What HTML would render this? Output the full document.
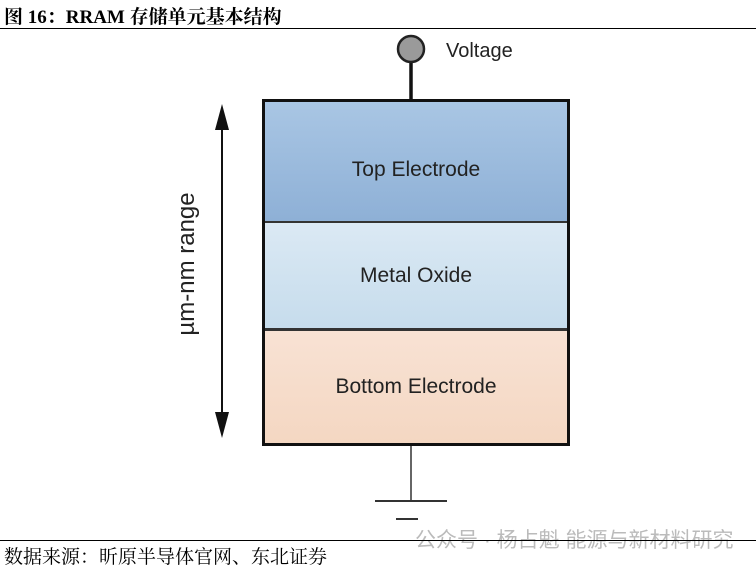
<!DOCTYPE html>
<html><head><meta charset="utf-8"><style>
body{margin:0;width:756px;height:568px;background:#fff;position:relative;overflow:hidden;font-family:"Liberation Sans","Noto Sans CJK SC",sans-serif}
.t{position:absolute;left:4px;top:2px;font:bold 19px "Liberation Serif","Noto Serif CJK SC",serif;color:#000}
.hr{position:absolute;left:0;width:756px;height:1px;background:#000}
.box{position:absolute;left:262px;top:99px;width:302px;height:341px;border:3.5px solid #111}
.l{position:absolute;left:0;width:302px;display:flex;align-items:center;justify-content:center;font-size:21px;color:#222}
.src{position:absolute;left:4px;top:542px;font:19px "Liberation Serif","Noto Serif CJK SC",serif;color:#000}
.wm{position:absolute;left:415px;top:524px;font-size:21px;color:#bbb}
</style></head><body>
<div class="t">图 16：RRAM 存储单元基本结构</div>
<div class="hr" style="top:28px"></div>
<svg width="756" height="568" style="position:absolute;left:0;top:0">
<line x1="411" y1="62" x2="411" y2="100" stroke="#111" stroke-width="3.5"/>
<circle cx="411" cy="49" r="13" fill="#9a9a9a" stroke="#222" stroke-width="2.5"/>
<text x="446" y="57" font-family="Liberation Sans" font-size="20" fill="#222">Voltage</text>
<line x1="411" y1="443" x2="411" y2="501" stroke="#333" stroke-width="1.5"/>
<line x1="375" y1="501" x2="447" y2="501" stroke="#333" stroke-width="2"/>
<line x1="396" y1="519" x2="418" y2="519" stroke="#333" stroke-width="2"/>
<line x1="222" y1="125" x2="222" y2="418" stroke="#111" stroke-width="2"/>
<polygon points="222,104 215,130 229,130" fill="#111"/>
<polygon points="222,438 215,412 229,412" fill="#111"/>
<text transform="translate(194,264) rotate(-90)" text-anchor="middle" font-family="Liberation Sans" font-size="24" fill="#222">µm-nm range</text>
</svg>
<div class="box">
<div class="l" style="top:0;background:linear-gradient(#a9c6e4,#8eb0d6);border-bottom:2px solid #333;padding-top:16px;box-sizing:border-box;height:121px">Top Electrode</div>
<div class="l" style="top:121px;height:105px;background:linear-gradient(#dbe9f4,#c6dcec);border-bottom:3px solid #333">Metal Oxide</div>
<div class="l" style="top:229px;height:112px;background:linear-gradient(#f8e2d4,#f4d7c2)">Bottom Electrode</div>
</div>
<div class="wm">公众号 · 杨占魁 能源与新材料研究</div>
<div class="hr" style="top:540px"></div>
<div class="src">数据来源：昕原半导体官网、东北证券</div>
</body></html>
